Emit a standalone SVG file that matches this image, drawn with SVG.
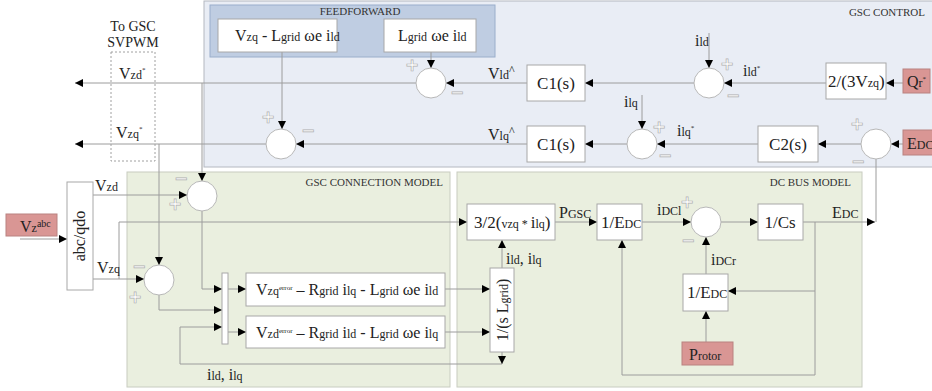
<svg xmlns="http://www.w3.org/2000/svg" width="932" height="391" viewBox="0 0 932 391">
  <style>
    .t { font-family: "Liberation Serif", "DejaVu Serif", serif; font-size: 16px; fill: #222; }
    .s { font-size: 12px; }
    .sup { font-size: 10px; }
    .tiny { font-size: 7px; }
    .ttl { font-family: "Liberation Serif", "DejaVu Serif", serif; font-size: 11px; fill: #333; }
    .blk { fill: #fff; stroke: #a8a8a8; stroke-width: 1; }
    .src { fill: #d99694; stroke: #b98280; stroke-width: 1; }
    .sum { fill: #fff; stroke: #b8b8b8; stroke-width: 1; }
    .sign { font-family: "DejaVu Sans", sans-serif; font-size: 17px; font-weight: bold; fill: #fff; stroke: #b0b0b0; stroke-width: 0.7; text-anchor: middle; }
    .w { fill: none; stroke: #9c9c9c; stroke-width: 1; }
    .a { marker-end: url(#arr); }
  </style>
  <defs>
    <marker id="arr" viewBox="0 0 10 10" refX="10" refY="5" markerWidth="8" markerHeight="8" markerUnits="userSpaceOnUse" orient="auto">
      <path d="M0,0 L10,5 L0,10 z" fill="#000"/>
    </marker>
  </defs>

  <rect width="932" height="391" fill="#fff"/>

  <!-- panels -->
  <g id="panel-gsc-control">
    <rect x="204" y="1" width="740" height="166" fill="#e9edf5" stroke="#b4b8c0"/>
    <text class="ttl" x="925" y="16" text-anchor="end">GSC CONTROL</text>
  </g>
  <g id="panel-feedforward">
    <rect x="210" y="5" width="285" height="52" fill="#bfcde2" stroke="#9aaecb"/>
    <text class="ttl" x="360" y="15" text-anchor="middle">FEEDFORWARD</text>
  </g>
  <g id="panel-connection">
    <rect x="127" y="172" width="323" height="215" fill="#eaefdf" stroke="#c8ccc0"/>
    <text class="ttl" x="443" y="186" text-anchor="end">GSC CONNECTION MODEL</text>
  </g>
  <g id="panel-dcbus">
    <rect x="457" y="172" width="405" height="215" fill="#eaefdf" stroke="#c8ccc0"/>
    <text class="ttl" x="851" y="186" text-anchor="end">DC BUS MODEL</text>
  </g>

  <!-- connectors -->
  <g id="connectors">
    <!-- d-axis control row -->
    <path class="w a" d="M903,83 H886"/>
    <path class="w a" d="M826,83 H724"/>
    <path class="w a" d="M694,83 H585"/>
    <path class="w a" d="M527,83 H446"/>
    <path class="w a" d="M416,83 H75"/>
    <path class="w a" d="M709,33 V68"/>
    <path class="w a" d="M431,52 V68"/>
    <!-- q-axis control row -->
    <path class="w a" d="M903,144 H891"/>
    <path class="w a" d="M861,144 H818"/>
    <path class="w a" d="M758,144 H657"/>
    <path class="w a" d="M627,144 H585"/>
    <path class="w a" d="M527,144 H296"/>
    <path class="w a" d="M266,144 H75"/>
    <path class="w a" d="M642,95 V129"/>
    <path class="w a" d="M282,52 V129"/>
    <!-- references into the connection model -->
    <path class="w a" d="M202,83 V181"/>
    <path class="w a" d="M159,144 V265"/>
    <!-- grid voltage transform -->
    <path class="w a" d="M20,239 H67"/>
    <path class="w a" d="M93,195 H187"/>
    <path class="w a" d="M93,279 H144"/>
    <path class="w a" d="M119,279 V222 H467"/>
    <!-- error voltages into the mux -->
    <path class="w a" d="M202,211 V289 H222"/>
    <path class="w a" d="M159,295 V310 H222"/>
    <path class="w a" d="M502,364 H180 V327 H222"/>
    <path class="w a" d="M502,352 V364"/>
    <path class="w a" d="M228,289 H246"/>
    <path class="w a" d="M228,332 H246"/>
    <path class="w a" d="M445,289 H490"/>
    <path class="w a" d="M445,332 H490"/>
    <path class="w a" d="M502,268 V240"/>
    <!-- DC bus -->
    <path class="w a" d="M555,222 H597"/>
    <path class="w a" d="M642,222 H691"/>
    <path class="w a" d="M721,222 H758"/>
    <path class="w a" d="M803,222 H875"/>
    <path class="w" d="M876,159 V222"/>
    <path class="w a" d="M815,222 V375 H622 V240"/>
    <path class="w a" d="M815,291 H728"/>
    <path class="w a" d="M706,274 V237"/>
    <path class="w a" d="M706,342 V311"/>
  </g>

  <!-- output to modulator -->
  <g id="svpwm">
    <text class="t" x="133" y="31" text-anchor="middle" style="font-size:14px">To GSC</text>
    <text class="t" x="133" y="47" text-anchor="middle" style="font-size:14px">SVPWM</text>
    <rect x="111" y="52" width="44" height="109" fill="none" stroke="#a0a0a0" stroke-dasharray="2,2"/>
    <text class="t" x="119" y="79">V<tspan class="s">zd</tspan><tspan class="tiny" dy="-7">*</tspan></text>
    <text class="t" x="116" y="138">V<tspan class="s">zq</tspan><tspan class="tiny" dy="-7">*</tspan></text>
  </g>

  <!-- feedforward blocks -->
  <g id="ff-q">
    <rect class="blk" x="218" y="19" width="119" height="33"/>
    <text class="t" x="235" y="41">V<tspan class="s">zq</tspan> - L<tspan class="s">grid</tspan> ωe i<tspan class="s">ld</tspan></text>
  </g>
  <g id="ff-d">
    <rect class="blk" x="384" y="19" width="92" height="33"/>
    <text class="t" x="398" y="41">L<tspan class="s">grid</tspan> ωe i<tspan class="s">ld</tspan></text>
  </g>

  <!-- summing junctions, control -->
  <g id="sum-vd">
    <circle class="sum" cx="431" cy="83" r="15"/>
    <text class="sign" x="412" y="71">+</text>
    <text class="sign" x="457" y="98">−</text>
  </g>
  <g id="sum-vq">
    <circle class="sum" cx="281" cy="144" r="15"/>
    <text class="sign" x="268" y="123">+</text>
    <text class="sign" x="308" y="136">−</text>
  </g>
  <g id="sum-id">
    <circle class="sum" cx="709" cy="83" r="15"/>
    <text class="sign" x="727" y="70">+</text>
    <text class="sign" x="733" y="101">−</text>
  </g>
  <g id="sum-iq">
    <circle class="sum" cx="642" cy="144" r="15"/>
    <text class="sign" x="659" y="133">+</text>
    <text class="sign" x="665" y="161">−</text>
  </g>
  <g id="sum-edc">
    <circle class="sum" cx="876" cy="144" r="15"/>
    <text class="sign" x="857" y="130">+</text>
    <text class="sign" x="858" y="167">−</text>
  </g>

  <!-- control blocks -->
  <g id="c1-d">
    <rect class="blk" x="527" y="65" width="58" height="36"/>
    <text class="t" x="556" y="89" text-anchor="middle" style="font-size:17px">C1(s)</text>
  </g>
  <g id="c1-q">
    <rect class="blk" x="527" y="126" width="58" height="36"/>
    <text class="t" x="556" y="150" text-anchor="middle" style="font-size:17px">C1(s)</text>
  </g>
  <g id="c2">
    <rect class="blk" x="758" y="126" width="60" height="36"/>
    <text class="t" x="788" y="150" text-anchor="middle" style="font-size:17px">C2(s)</text>
  </g>
  <g id="qgain">
    <rect class="blk" x="826" y="63" width="60" height="36"/>
    <text class="t" x="828" y="87" style="font-size:17px">2/(3V<tspan class="s">zq</tspan>)</text>
  </g>
  <g id="qref">
    <rect class="src" x="903" y="69" width="27" height="24"/>
    <text class="t" x="907" y="87">Q<tspan class="s">r</tspan><tspan class="tiny" dy="-6">*</tspan></text>
  </g>
  <g id="edcref">
    <rect class="src" x="903" y="130" width="30" height="25"/>
    <text class="t" x="907" y="149">E<tspan class="s">DC</tspan></text>
  </g>

  <!-- control signal labels -->
  <g id="labels-control">
    <text class="t" x="488" y="79">V<tspan class="s">ld</tspan><tspan class="s" dy="-5">^</tspan></text>
    <text class="t" x="488" y="140">V<tspan class="s">lq</tspan><tspan class="s" dy="-5">^</tspan></text>
    <text class="t" x="695" y="46">i<tspan class="s">ld</tspan></text>
    <text class="t" x="743" y="76">i<tspan class="s">ld</tspan><tspan class="tiny" dy="-6">*</tspan></text>
    <text class="t" x="624" y="107">i<tspan class="s">lq</tspan></text>
    <text class="t" x="677" y="136">i<tspan class="s">lq</tspan><tspan class="tiny" dy="-6">*</tspan></text>
  </g>

  <!-- grid voltage measurement -->
  <g id="vz-abc">
    <rect class="src" x="6" y="214" width="51" height="22"/>
    <text class="t" x="20" y="232">V<tspan class="s">z</tspan><tspan class="sup" dy="-5">abc</tspan></text>
  </g>
  <g id="abc-qdo">
    <rect class="blk" x="67" y="182" width="26" height="108"/>
    <text class="t" transform="translate(85,236) rotate(-90)" text-anchor="middle">abc/qdo</text>
    <text class="t" x="95" y="191">V<tspan class="s">zd</tspan></text>
    <text class="t" x="97" y="273">V<tspan class="s">zq</tspan></text>
  </g>

  <!-- summing junctions, connection model -->
  <g id="sum-ed">
    <circle class="sum" cx="202" cy="196" r="15"/>
    <text class="sign" x="181" y="184">−</text>
    <text class="sign" x="175" y="210">+</text>
  </g>
  <g id="sum-eq">
    <circle class="sum" cx="159" cy="280" r="15"/>
    <text class="sign" x="139" y="272">−</text>
    <text class="sign" x="135" y="303">+</text>
  </g>

  <g id="mux">
    <rect class="blk" x="222" y="273" width="6" height="71"/>
  </g>
  <g id="eq-q">
    <rect class="blk" x="246" y="273" width="199" height="33"/>
    <text class="t" x="256" y="295">V<tspan class="s">zq</tspan><tspan class="tiny" dy="-5">error</tspan><tspan dy="5"> – R</tspan><tspan class="s">grid</tspan> i<tspan class="s">lq</tspan> - L<tspan class="s">grid</tspan> ωe i<tspan class="s">ld</tspan></text>
  </g>
  <g id="eq-d">
    <rect class="blk" x="246" y="316" width="199" height="32"/>
    <text class="t" x="256" y="338">V<tspan class="s">zd</tspan><tspan class="tiny" dy="-5">error</tspan><tspan dy="5"> – R</tspan><tspan class="s">grid</tspan> i<tspan class="s">ld</tspan> - L<tspan class="s">grid</tspan> ωe i<tspan class="s">lq</tspan></text>
  </g>
  <g id="inductor">
    <rect class="blk" x="490" y="268" width="24" height="84"/>
    <text class="t" transform="translate(508,310) rotate(-90)" text-anchor="middle">1/(s L<tspan class="s">grid</tspan>)</text>
  </g>
  <text class="t" x="207" y="380">i<tspan class="s">ld</tspan>, i<tspan class="s">lq</tspan></text>
  <text class="t" x="506" y="264">i<tspan class="s">ld</tspan>, i<tspan class="s">lq</tspan></text>

  <!-- DC bus blocks -->
  <g id="power">
    <rect class="blk" x="467" y="204" width="88" height="36"/>
    <text class="t" x="474" y="228" style="font-size:17px">3/2(<tspan class="s">vzq * </tspan>i<tspan class="s">lq</tspan>)</text>
  </g>
  <g id="idc-gsc">
    <rect class="blk" x="597" y="204" width="45" height="36"/>
    <text class="t" x="601" y="228" style="font-size:17px">1/E<tspan class="s">DC</tspan></text>
  </g>
  <g id="sum-dc">
    <circle class="sum" cx="706" cy="222" r="15"/>
    <text class="sign" x="687" y="208">+</text>
    <text class="sign" x="688" y="246">−</text>
  </g>
  <g id="cap">
    <rect class="blk" x="758" y="204" width="45" height="36"/>
    <text class="t" x="780" y="228" text-anchor="middle" style="font-size:17px">1/Cs</text>
  </g>
  <g id="idc-rotor">
    <rect class="blk" x="683" y="274" width="45" height="37"/>
    <text class="t" x="687" y="298" style="font-size:17px">1/E<tspan class="s">DC</tspan></text>
  </g>
  <g id="protor">
    <rect class="src" x="682" y="342" width="51" height="23"/>
    <text class="t" x="689" y="360">P<tspan class="s">rotor</tspan></text>
  </g>
  <g id="labels-dc">
    <text class="t" x="559" y="218">P<tspan class="s">GSC</tspan></text>
    <text class="t" x="657" y="215">i<tspan class="s">DCl</tspan></text>
    <text class="t" x="711" y="265">i<tspan class="s">DCr</tspan></text>
    <text class="t" x="832" y="218">E<tspan class="s">DC</tspan></text>
  </g>
</svg>
